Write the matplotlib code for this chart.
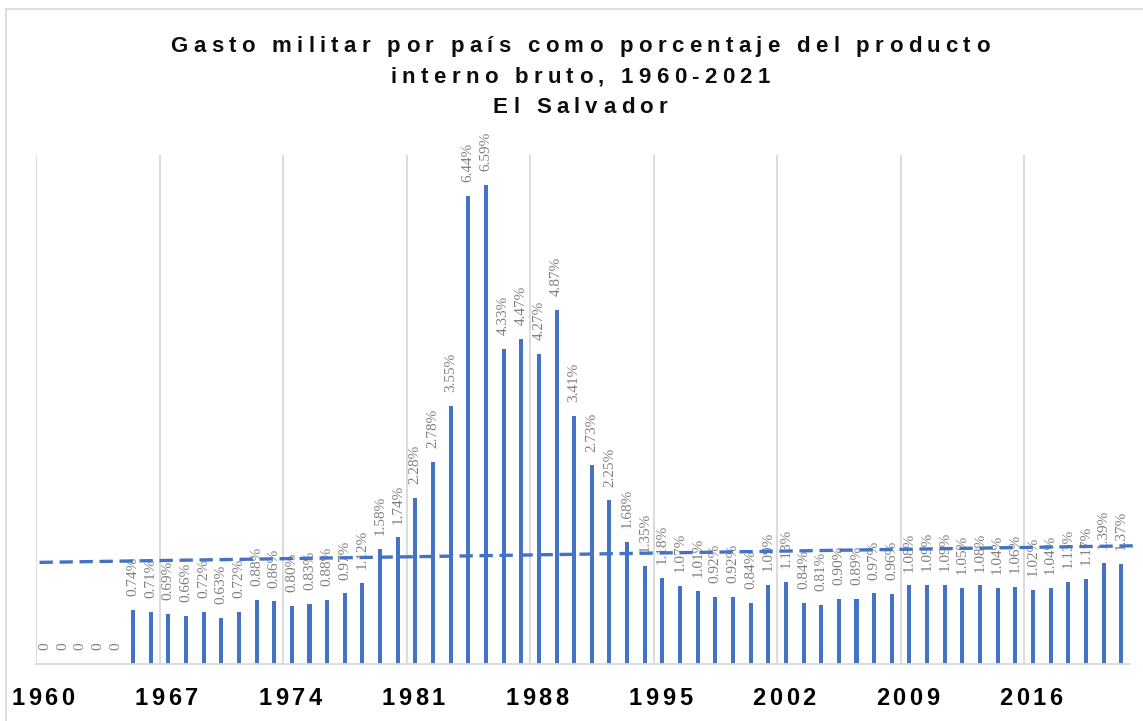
import numpy as np
import matplotlib
matplotlib.use("Agg")
import matplotlib.pyplot as plt
from matplotlib import font_manager
from matplotlib.lines import Line2D

# Data: military spending as % of GDP, El Salvador
years = list(range(1960, 2022))
values = [0, 0, 0, 0, 0,
          0.74, 0.71, 0.69, 0.66, 0.72, 0.63, 0.72, 0.88, 0.86, 0.80,
          0.83, 0.88, 0.97, 1.12, 1.58, 1.74, 2.28, 2.78, 3.55, 6.44,
          6.59, 4.33, 4.47, 4.27, 4.87, 3.41, 2.73, 2.25, 1.68, 1.35,
          1.18, 1.07, 1.01, 0.92, 0.92, 0.84, 1.09, 1.13, 0.84, 0.81,
          0.90, 0.89, 0.97, 0.96, 1.08, 1.09, 1.09, 1.05, 1.08, 1.04,
          1.06, 1.02, 1.04, 1.13, 1.17, 1.39, 1.37]
title_lines = ["Gasto militar por país como porcentaje del producto",
               "interno bruto, 1960-2021",
               "El Salvador"]

W, H = 1143, 721
blue = "#4472C4"
grid_col = "#D9D9D9"

fig = plt.figure(figsize=(W / 100, H / 100), dpi=100)
ax = fig.add_axes([36 / W, 1 - 664 / H, 1094 / W, 509 / H])

x = np.arange(len(years))
ax.bar(x, values, width=0.23, color=blue, zorder=2)

# data labels
for xi, v in zip(x, values):
    txt = "0" if v == 0 else f"{v:.2f}%"
    ax.annotate(txt, (xi, v), xytext=(0, 10), textcoords="offset points",
                rotation=90, ha="center", va="bottom", color="#808080",
                fontsize=11, family="Liberation Serif", zorder=3)

# linear trendline
coef = np.polyfit(x, values, 1)
xt = np.array([-0.3, len(years) - 0.3])
ax.plot(xt, np.polyval(coef, xt), color=blue, lw=2.4, dashes=(4, 2),
        zorder=4, clip_on=False)

ax.set_xlim(-0.5, len(years) - 0.5)
ax.set_ylim(0, 7)
for g in np.arange(-0.5, len(years), 7):
    ax.axvline(g, color=grid_col, lw=1.3, zorder=0)

ax.set_xticks([])
ax.set_yticks([])
for s in ["top", "right", "left"]:
    ax.spines[s].set_visible(False)
ax.spines["bottom"].set_color(grid_col)
ax.spines["bottom"].set_linewidth(1.3)

# chart border
fig.add_artist(Line2D([6 / W, 1], [1 - 9 / H, 1 - 9 / H], color=grid_col, lw=1.2))
fig.add_artist(Line2D([6 / W, 6 / W], [0, 1 - 9 / H], color=grid_col, lw=1.2))


def tracked_text(s, cx, base_y, size, track, color="#0D0D0D"):
    # draw a line of text with extra letter spacing (pixels)
    prop = font_manager.FontProperties(family="Liberation Sans", weight="bold", size=size)
    font = font_manager.get_font(font_manager.findfont(prop))
    font.set_size(size, 100)
    advs = [font.load_char(ord(c)).linearHoriAdvance / 65536 for c in s]
    total = sum(advs) + track * (len(s) - 1)
    px = cx - total / 2
    for c, a in zip(s, advs):
        if c != " ":
            fig.text((px + a / 2) / W, 1 - base_y / H, c, fontproperties=prop,
                     ha="center", va="baseline", color=color)
        px += a + track


for line, by in zip(title_lines, [52, 83, 113]):
    tracked_text(line, 580, by, 16, 5.3)

# category labels every 7 years
for i in x[::7]:
    cx = ax.transData.transform((i, 0))[0]
    tracked_text(str(years[i]), cx - 2, 705, 17, 3.5, color="#000000")

fig.savefig("out.png", dpi=100)
